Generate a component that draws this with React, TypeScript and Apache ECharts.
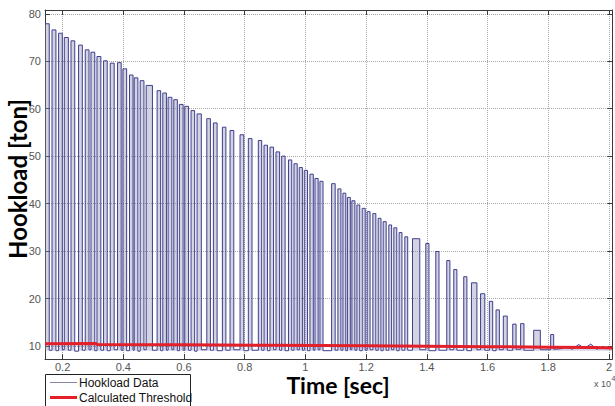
import React, { useEffect, useRef } from "react";
import * as echarts from "echarts";

// Hookload pulses: start time (s), end time (s), peak (ton), low level after the pulse (ton)
const pulseStart = [
  1420, 1651, 1868, 2056, 2276, 2526, 2746, 2934, 3132, 3349, 3569, 3810, 3987, 4204, 4359, 4556,
  4754, 5114, 5301, 5476, 5663, 5847, 6025, 6232, 6430, 6751, 6968, 7264, 7517, 7846, 8119, 8448,
  8636, 8833, 9031, 9218, 9442, 9623, 9797, 9962, 10149, 10314, 10478, 10863, 11070, 11235, 11383,
  11531, 11696, 11870, 12035, 12222, 12396, 12561, 12748, 12913, 13087, 13275, 13528, 13966, 14295,
  14657, 14887, 15216, 15470, 15770, 16060, 16280, 16520, 16830, 17090, 17520, 18080,
];
const pulseEnd = [
  1560, 1780, 1990, 2190, 2400, 2650, 2870, 3060, 3260, 3470, 3700, 3930, 4110, 4320, 4480, 4680,
  4960, 5230, 5420, 5600, 5780, 5970, 6150, 6350, 6570, 6870, 7090, 7380, 7640, 7970, 8240, 8560,
  8750, 8950, 9150, 9330, 9550, 9730, 9900, 10070, 10260, 10420, 10580, 10980, 11170, 11330, 11480,
  11630, 11790, 11970, 12130, 12320, 12490, 12660, 12840, 13010, 13180, 13370, 13768, 14070, 14400,
  14760, 14990, 15320, 15650, 15910, 16170, 16390, 16650, 16940, 17200, 17740, 18180,
];
const pulsePeak = [
  77.9, 76.6, 75.9, 75.0, 74.3, 73.4, 72.4, 71.9, 71.0, 70.1, 69.6, 69.7, 68.4, 67.1, 66.5, 65.9,
  64.9, 63.8, 63.3, 62.4, 61.9, 60.9, 60.5, 59.6, 58.9, 57.9, 57.0, 56.1, 55.4, 54.5, 53.7, 53.3,
  52.3, 51.9, 50.9, 50.0, 49.2, 48.4, 47.6, 47.0, 46.2, 45.3, 44.7, 44.2, 43.1, 42.2, 41.3,
  40.6, 39.7, 39.0, 38.3, 37.9, 36.9, 36.2, 35.5, 34.9, 33.9, 33.0, 32.6, 31.6, 29.9,
  28.0, 26.1, 24.6, 23.3, 21.0, 19.4, 17.6, 16.3, 14.6, 14.7, 13.3, 12.4,
];
const pulseLow = [
  9.1, 9.0, 9.2, 9.1, 8.9, 9.1, 9.2, 9.0, 9.1, 9.0, 9.2, 9.1, 9.0, 9.1, 8.9, 9.2,
  9.1, 9.0, 9.1, 9.2, 9.0, 9.1, 9.1, 8.9, 9.2, 9.1, 9.0, 9.1, 9.2, 9.0, 9.1, 9.1,
  9.0, 9.2, 9.1, 9.0, 9.1, 9.2, 9.1, 9.0, 9.1, 9.2, 9.0, 9.1, 9.1, 9.0, 9.2,
  9.1, 9.0, 9.1, 9.2, 9.1, 9.0, 9.1, 9.2, 9.0, 9.1, 9.1, 9.2, 9.0, 9.1,
  9.2, 9.1, 9.0, 9.2, 9.1, 9.0, 9.2, 9.1, 9.3, 9.1, 9.2, 9.3,
];
// Tail of the hookload trace after the last pulse
const tailTime = [18400, 18600, 18800, 19000, 19200, 19400, 19600, 19800, 20000, 20110];
const tailValue = [9.4, 9.8, 9.3, 10.3, 9.5, 10.4, 9.3, 9.9, 9.5, 9.4];

// Calculated threshold
const thresholdTime = [1420, 3100, 3150, 6000, 9000, 12000, 14000, 16000, 18000, 19500, 20110];
const thresholdValue = [10.45, 10.5, 10.3, 10.25, 10.15, 10.05, 9.95, 9.85, 9.75, 9.65, 9.55];

const xTicks = [2000, 4000, 6000, 8000, 10000, 12000, 14000, 16000, 18000, 20000];
const yTicks = [10, 20, 30, 40, 50, 60, 70, 80];

const X_MIN = 1420;
const X_MAX = 20110;
const Y_MIN = 7.25;
const Y_MAX = 80.8;

function buildHookload(): number[][] {
  const out: number[][] = [];
  for (let i = 0; i < pulseStart.length; i++) {
    if (i > 0) out.push([pulseStart[i], pulseLow[i - 1]]);
    out.push([pulseStart[i], pulsePeak[i]]);
    out.push([pulseEnd[i], pulsePeak[i]]);
    out.push([pulseEnd[i], pulseLow[i]]);
  }
  for (let i = 0; i < tailTime.length; i++) out.push([tailTime[i], tailValue[i]]);
  return out;
}

export default function App() {
  const ref = useRef<HTMLDivElement>(null);
  useEffect(() => {
    if (!ref.current) return;
    const chart = echarts.init(ref.current, undefined, { renderer: "svg" });
    const axisColor = "#3a3a3a";
    const gridLine = { show: true, lineStyle: { color: "#a8a8a8", type: "dotted" as const, width: 1 } };
    const labelFont = { color: "#555", fontSize: 11, fontFamily: "Liberation Sans, Arial, sans-serif" };
    const hook = buildHookload();
    chart.setOption({
      animation: false,
      backgroundColor: "#fff",
      grid: { left: 45, right: 2, top: 10, bottom: 47, containLabel: false },
      xAxis: [
        {
          type: "value",
          min: X_MIN,
          max: X_MAX,
          axisLine: { show: true, onZero: false, lineStyle: { color: axisColor } },
          axisTick: { show: true, inside: true, length: 5, customValues: xTicks, lineStyle: { color: axisColor } },
          axisLabel: {
            ...labelFont,
            margin: 2,
            customValues: xTicks,
            formatter: (v: number) => String(parseFloat((v / 10000).toFixed(1))),
          },
          splitLine: gridLine,
        },
        {
          type: "value",
          position: "top",
          min: X_MIN,
          max: X_MAX,
          axisLine: { show: true, onZero: false, lineStyle: { color: axisColor } },
          axisTick: { show: true, inside: true, length: 5, customValues: xTicks, lineStyle: { color: axisColor } },
          axisLabel: { show: false },
          splitLine: { show: false },
        },
      ],
      yAxis: [
        {
          type: "value",
          min: Y_MIN,
          max: Y_MAX,
          axisLine: { show: true, onZero: false, lineStyle: { color: axisColor } },
          axisTick: { show: true, inside: true, length: 5, customValues: yTicks, lineStyle: { color: axisColor } },
          axisLabel: { ...labelFont, margin: 4, customValues: yTicks },
          splitLine: gridLine,
        },
        {
          type: "value",
          position: "right",
          min: Y_MIN,
          max: Y_MAX,
          axisLine: { show: true, onZero: false, lineStyle: { color: axisColor } },
          axisTick: { show: true, inside: true, length: 5, customValues: yTicks, lineStyle: { color: axisColor } },
          axisLabel: { show: false },
          splitLine: { show: false },
        },
      ],
      series: [
        {
          name: "Hookload Data",
          type: "line",
          xAxisIndex: 0,
          yAxisIndex: 0,
          data: hook,
          showSymbol: false,
          symbol: "none",
          lineStyle: { color: "#3f3f8e", width: 1 },
          areaStyle: { color: "rgba(140,140,180,0.55)", origin: 9 },
          z: 2,
        },
        {
          name: "Calculated Threshold",
          type: "line",
          xAxisIndex: 0,
          yAxisIndex: 0,
          data: thresholdTime.map((t, i) => [t, thresholdValue[i]]),
          showSymbol: false,
          symbol: "none",
          lineStyle: { color: "#e3202a", width: 3 },
          z: 3,
        },
      ],
      graphic: [
        {
          type: "text",
          x: 17,
          y: 179,
          rotation: Math.PI / 2,
          style: {
            text: "Hookload [ton]",
            font: "bold 24px Lato, 'Open Sans', sans-serif",
            fill: "#000",
            align: "center",
            verticalAlign: "middle",
          },
        },
        {
          type: "text",
          x: 338,
          y: 385,
          style: {
            text: "Time [sec]",
            font: "bold 23px Lato, 'Open Sans', sans-serif",
            fill: "#000",
            align: "center",
            verticalAlign: "middle",
          },
        },
        {
          type: "text",
          x: 611,
          y: 384,
          style: { text: "x 10", font: "9px 'Liberation Sans', Arial", fill: "#555", align: "right", verticalAlign: "middle" },
        },
        {
          type: "text",
          x: 611.5,
          y: 378,
          style: { text: "4", font: "7px 'Liberation Sans', Arial", fill: "#555", align: "left", verticalAlign: "middle" },
        },
        {
          type: "group",
          children: [
            {
              type: "rect",
              shape: { x: 45.5, y: 374.5, width: 145, height: 40 },
              style: { fill: "#fff", stroke: "#222", lineWidth: 1 },
            },
            {
              type: "line",
              shape: { x1: 50, y1: 382.5, x2: 77, y2: 382.5 },
              style: { stroke: "#8585ab", lineWidth: 1 },
            },
            {
              type: "text",
              x: 79,
              y: 383,
              style: { text: "Hookload Data", font: "12px 'Liberation Sans', Arial", fill: "#111", align: "left", verticalAlign: "middle" },
            },
            {
              type: "line",
              shape: { x1: 50, y1: 397.5, x2: 77, y2: 397.5 },
              style: { stroke: "#e3202a", lineWidth: 3 },
            },
            {
              type: "text",
              x: 79,
              y: 398,
              style: { text: "Calculated Threshold", font: "12px 'Liberation Sans', Arial", fill: "#111", align: "left", verticalAlign: "middle" },
            },
          ],
        },
      ],
    });
    return () => chart.dispose();
  }, []);
  return (
    <div
      ref={ref}
      style={{ position: "absolute", left: 0, top: 0, width: 615, height: 406, background: "#fff" }}
    />
  );
}
